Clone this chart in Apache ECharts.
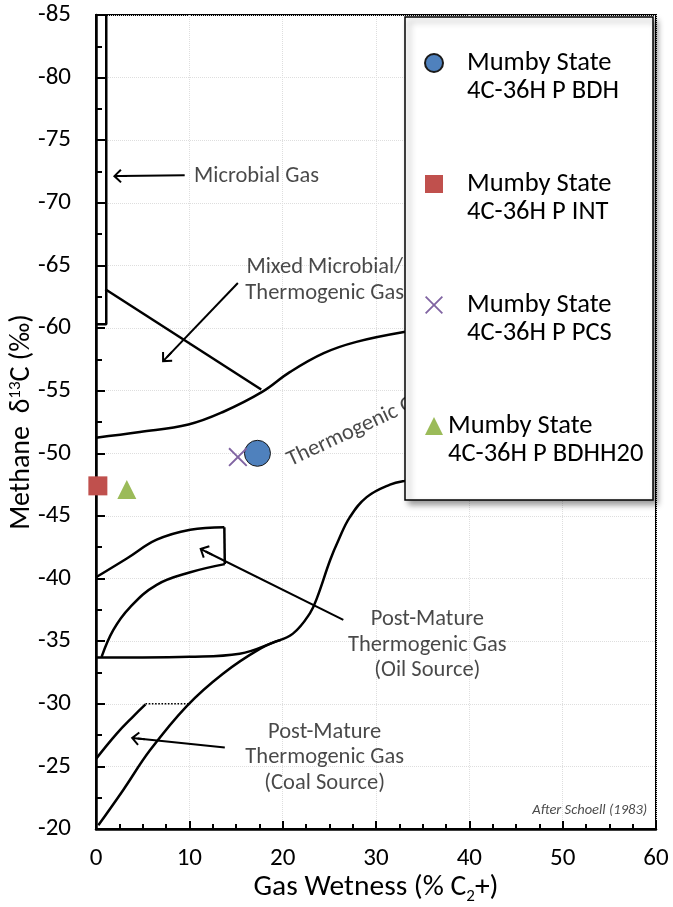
<!DOCTYPE html>
<html>
<head>
<meta charset="utf-8">
<script src="https://cdn.jsdelivr.net/npm/echarts@6/dist/echarts.min.js"></script>
<style>
html,body{margin:0;padding:0;background:#fff;}
#chart{width:673px;height:907px;}
</style>
</head>
<body>
<div id="chart"></div>
<script>
// ---------- data ----------
const xRange = [0, 60];
const yRange = [-85, -20];

const sampleNames = [
  'Mumby State\n4C-36H P BDH',
  'Mumby State\n4C-36H P INT',
  'Mumby State\n4C-36H P PCS',
  'Mumby State\n4C-36H P BDHH20'
];
const sampleBDH = [[17.3, -50.0]];
const sampleINT = [[0.2, -47.4]];
const samplePCS = [[15.2, -49.7]];
const sampleBDHH20 = [[3.3, -47.1]];

// Schoell (1983) field boundaries
const microbialBox = [[0, -60.3], [1.1, -60.3], [1.1, -85]];
const mixedLine = [[1.0, -63.1], [17.7, -55.1]];
const thermoUpper = [[0, -51.25], [4.7, -51.7], [9.9, -52.3], [13.6, -53.3], [17.8, -54.9], [20.8, -56.5], [24.4, -58.0], [27.9, -58.9], [33.1, -59.7], [38, -60.2]];
const thermoLower = [[0, -33.7], [5, -33.7], [10, -33.75], [15.4, -34.0], [19, -34.9], [21.1, -35.6], [22.9, -37.2], [23.7, -38.5], [25.1, -41.5], [26.0, -43.1], [27.2, -44.9], [29.0, -46.5], [31.5, -47.5], [33.1, -47.8], [37, -48.2]];
const coalLower = [[0.25, -20.3], [2.9, -23.1], [5.8, -26.3], [9.7, -29.8], [13.6, -32.4], [17.6, -34.4], [19.8, -35.1]];
const coalUpper = [[0, -25.6], [2.2, -27.6], [4.0, -29.0], [5.3, -29.95]];
const coalCap = [[5.3, -30], [9.9, -30]];
const oilUpper = [[0, -40.1], [3.3, -41.6], [6.5, -43.1], [10.1, -43.9], [13.75, -44.1]];
const oilEdge = [[13.75, -44.1], [13.8, -41.15]];
const oilLower = [[13.8, -41.15], [10.1, -40.5], [6.5, -39.5], [3.64, -37.7], [1.86, -35.9], [0.6, -33.75]];

// annotation arrows [from, to]
const arrowFrom = [[9.5, -72.2], [15.2, -63.6], [26.5, -36.7], [13.8, -26.5]];
const arrowTo = [[2.57, -72.14], [7.6, -57.68], [11.75, -42.16], [4.47, -27.22]];

// annotation texts
const noteTexts = [
  'Microbial Gas',
  'Mixed Microbial/\nThermogenic Gas',
  'Thermogenic Gas',
  'Post-Mature\nThermogenic Gas\n(Oil Source)',
  'Post-Mature\nThermogenic Gas\n(Coal Source)',
  'After Schoell (1983)'
];
const notePos = [[10.5, -72.15], [24.5, -63.8], [28.3, -52.05], [35.5, -34.7], [24.5, -25.7], [59.05, -21.5]];

// ---------- styling ----------
const FONT = 'Calibri, Carlito, Lato, sans-serif';
const noteAlign = ['left', 'center', 'center', 'center', 'center', 'right'];
const noteRotate = [0, 0, 25, 0, 0, 0];
const noteItalic = [false, false, false, false, false, true];
const noteSize = [22.5, 22.5, 22.5, 22.5, 22.5, 14.5];

const arrowPath = 'path://M50,0 L100,52 L90,62 L57,28 L57,100 L43,100 L43,28 L10,62 L0,52 Z';
const crossPath = 'path://M0,7 L7,0 L50,43 L93,0 L100,7 L57,50 L100,93 L93,100 L50,57 L7,100 L0,93 L43,50 Z';

function curve(data, smooth, dotted) {
  return {
    type: 'line', data: data, showSymbol: false, symbol: 'none', smooth: smooth,
    silent: true, z: 2,
    lineStyle: { color: '#000', width: dotted ? 1.6 : 2.5, type: dotted ? 'dotted' : 'solid' }
  };
}

const chart = echarts.init(document.getElementById('chart'));

const option = {
  backgroundColor: '#fff',
  animation: false,
  grid: { left: 96, top: 15, right: 17, bottom: 78, show: true, borderColor: '#000', borderWidth: 2,
    containLabel: false, outerBoundsMode: 'none' },
  xAxis: {
    type: 'value', min: xRange[0], max: xRange[1], interval: 10,
    axisLine: { show: true, onZero: false, lineStyle: { color: '#000', width: 2.5 } },
    axisTick: { show: true, inside: true, length: 8, lineStyle: { color: '#000', width: 2 } },
    minorTick: { show: true, splitNumber: 4, length: 5, lineStyle: { color: '#000', width: 2 } },
    splitLine: { show: true, lineStyle: { color: '#dedede', width: 1, type: 'dotted' } },
    axisLabel: { fontFamily: FONT, fontSize: 25, color: '#000', margin: 17 },
    name: 'Gas Wetness (% C{sub|2}+)', nameLocation: 'middle', nameGap: 42, nameMoveOverlap: false,
    nameTextStyle: { fontFamily: FONT, fontSize: 29.5, color: '#000', lineHeight: 34,
      rich: { sub: { fontFamily: FONT, fontSize: 17, lineHeight: 17, verticalAlign: 'bottom', color: '#000' } } }
  },
  yAxis: {
    type: 'value', min: yRange[0], max: yRange[1], interval: 5, inverse: true,
    axisLine: { show: true, onZero: false, lineStyle: { color: '#000', width: 2.5 } },
    axisTick: { show: true, inside: true, length: 9, lineStyle: { color: '#000', width: 2 } },
    minorTick: { show: true, splitNumber: 2, length: 6, lineStyle: { color: '#000', width: 2 } },
    splitLine: { show: true, lineStyle: { color: '#dedede', width: 1, type: 'dotted' } },
    axisLabel: { fontFamily: FONT, fontSize: 25, color: '#000', margin: 25 },
    name: 'Methane  δ{sup|13}C (‰)', nameLocation: 'middle', nameGap: 59, nameMoveOverlap: false,
    nameTextStyle: { fontFamily: FONT, fontSize: 28, color: '#000', lineHeight: 30,
      rich: { sup: { fontFamily: FONT, fontSize: 17, lineHeight: 13, verticalAlign: 'top', color: '#000' } } }
  },
  graphic: [{
    type: 'rect', z: 3, silent: true,
    shape: { x: 405, y: 17, width: 248, height: 483 },
    style: { fill: '#fff', stroke: '#000', lineWidth: 1.5, shadowBlur: 6, shadowOffsetX: 4, shadowOffsetY: 4, shadowColor: 'rgba(0,0,0,0.4)' }
  }],
  legend: {
    orient: 'vertical', left: 424, top: 21, itemWidth: 18, itemHeight: 18, itemGap: 37, padding: 0,
    selectedMode: false, z: 5,
    formatter: name => '\n' + name,
    textStyle: { fontFamily: FONT, fontSize: 26.5, color: '#000', lineHeight: 28 },
    data: sampleNames.map((n, i) => ({ name: n, textStyle: { padding: [0, 0, 0, i < 3 ? 19 : 0] } }))
  },
  series: [
    curve(microbialBox, false),
    curve(mixedLine, false),
    curve(thermoUpper, 0.4),
    curve(thermoLower, 0.4),
    curve(coalLower, 0.4),
    curve(coalUpper, 0.4),
    curve(coalCap, false, true),
    curve(oilUpper, 0.4),
    curve(oilEdge, false),
    curve(oilLower, 0.4),
    {
      type: 'lines', coordinateSystem: 'cartesian2d', silent: true, z: 2,
      symbol: ['none', arrowPath], symbolSize: 14,
      lineStyle: { color: '#000', width: 2, opacity: 1, curveness: 0 },
      data: arrowFrom.map((f, i) => ({ coords: [f, arrowTo[i]] }))
    },
    {
      type: 'scatter', silent: true, z: 2, symbolSize: 1, itemStyle: { color: 'rgba(0,0,0,0)' },
      data: noteTexts.map((t, i) => ({
        value: notePos[i], name: t,
        label: {
          show: true, position: 'inside', formatter: t, align: noteAlign[i], verticalAlign: 'middle',
          rotate: noteRotate[i], fontFamily: FONT, fontSize: noteSize[i], color: '#1a1a1a',
          fontStyle: noteItalic[i] ? 'italic' : 'normal', lineHeight: 25.5
        }
      }))
    },
    { name: sampleNames[0], type: 'scatter', z: 6, data: sampleBDH, symbol: 'circle', symbolSize: 26,
      itemStyle: { color: '#4F81BD', borderColor: '#1a1a1a', borderWidth: 1, opacity: 1 } },
    { name: sampleNames[1], type: 'scatter', z: 6, data: sampleINT, symbol: 'rect', symbolSize: 19,
      itemStyle: { color: '#C0504D', opacity: 1 } },
    { name: sampleNames[2], type: 'scatter', z: 6, data: samplePCS, symbol: crossPath, symbolSize: 19,
      itemStyle: { color: '#8064A2', opacity: 1 } },
    { name: sampleNames[3], type: 'scatter', z: 6, data: sampleBDHH20, symbol: 'triangle', symbolSize: 19,
      itemStyle: { color: '#9BBB59', opacity: 1 } }
  ]
};
chart.setOption(option);
</script>
</body>
</html>
